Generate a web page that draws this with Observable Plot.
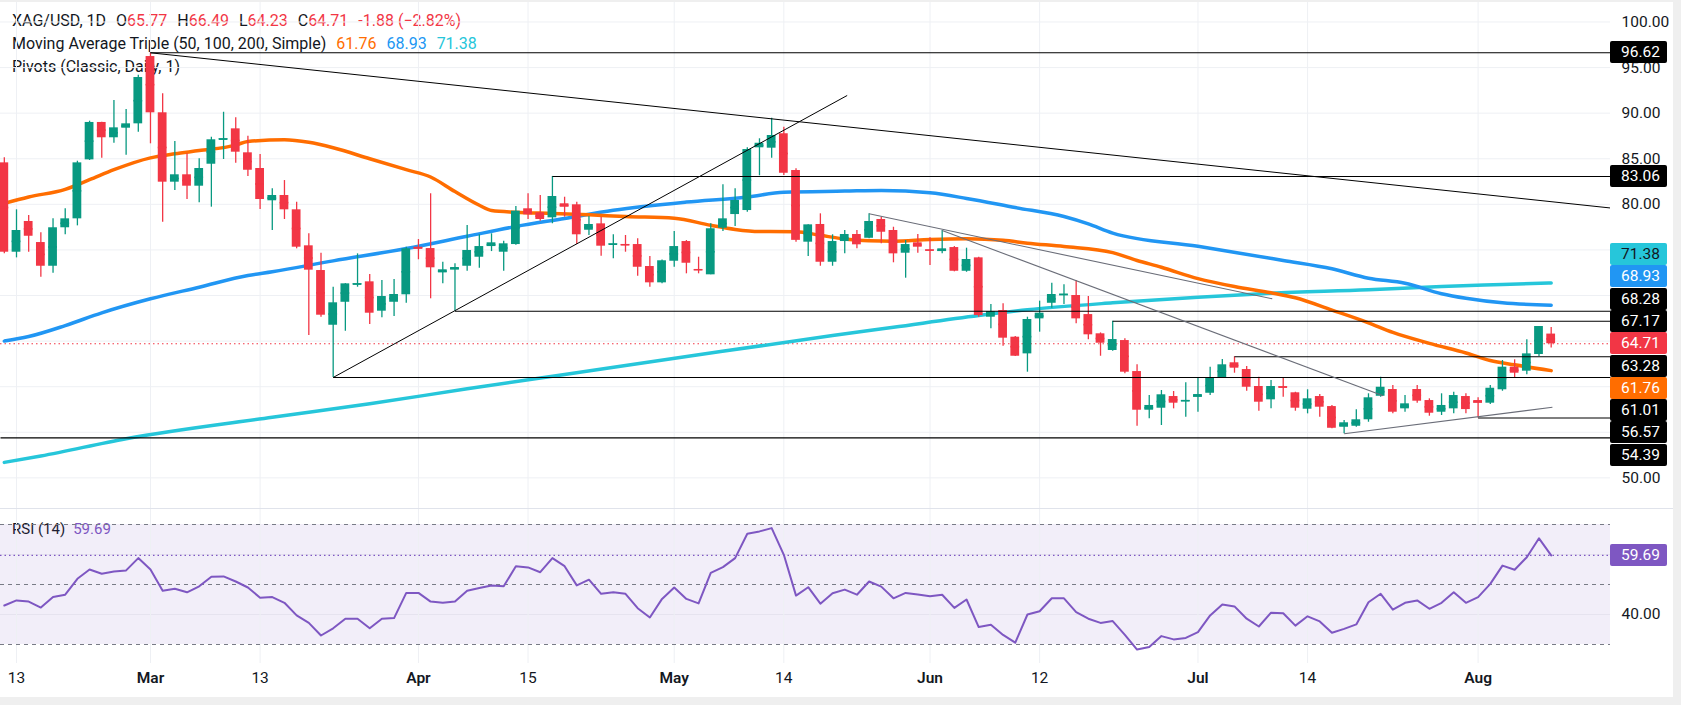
<!DOCTYPE html>
<html><head><meta charset="utf-8">
<script src="https://cdn.jsdelivr.net/npm/d3@7"></script>
<script src="https://cdn.jsdelivr.net/npm/@observablehq/plot@0.6"></script>
<style>
html,body{margin:0;padding:0;background:#fff;}
#wrap{position:relative;width:1681px;height:705px;overflow:hidden;background:#fff;font-family:Roboto,sans-serif;color:#131722;}
.lg{position:absolute;left:12px;font-size:16px;line-height:23px;white-space:pre;z-index:0;}
.lg span.gap{margin-left:10px;}
.box{position:absolute;left:1610px;width:57px;height:22px;line-height:22px;font-size:15.5px;padding-left:11px;box-sizing:border-box;border-radius:2px;z-index:3;}
svg{position:absolute;left:0;z-index:1;}
.frameR{position:absolute;left:1673px;top:0;width:8px;height:705px;background:#efefef;z-index:4;}
.frameB{position:absolute;left:0;top:697px;width:1681px;height:8px;background:#efefef;z-index:4;}
.frameT{position:absolute;left:0;top:0;width:1681px;height:2px;background:#efefef;z-index:4;}
.sep{position:absolute;left:0;top:508px;width:1681px;height:1px;background:#e0e3eb;z-index:2;}
</style></head><body><div id="wrap"></div><script>
// ---------- data ----------
const dates = [
"Feb 12","Feb 13","Feb 16","Feb 17","Feb 18","Feb 19","Feb 20","Feb 23","Feb 24","Feb 25","Feb 26","Feb 27",
"Mar 2","Mar 3","Mar 4","Mar 5","Mar 6","Mar 9","Mar 10","Mar 11","Mar 12","Mar 13","Mar 16","Mar 17","Mar 18","Mar 19","Mar 20","Mar 23","Mar 24","Mar 25","Mar 26","Mar 27","Mar 30","Mar 31",
"Apr 1","Apr 2","Apr 6","Apr 7","Apr 8","Apr 9","Apr 10","Apr 13","Apr 14","Apr 15","Apr 16","Apr 17","Apr 20","Apr 21","Apr 22","Apr 23","Apr 24","Apr 27","Apr 28","Apr 29","Apr 30",
"May 1","May 4","May 5","May 6","May 7","May 8","May 11","May 12","May 13","May 14","May 15","May 18","May 19","May 20","May 21","May 22","May 25","May 26","May 27","May 28","May 29",
"Jun 1","Jun 2","Jun 3","Jun 4","Jun 5","Jun 8","Jun 9","Jun 10","Jun 11","Jun 12","Jun 15","Jun 16","Jun 17","Jun 18","Jun 19","Jun 22","Jun 23","Jun 24","Jun 25","Jun 26","Jun 29","Jun 30",
"Jul 1","Jul 2","Jul 3","Jul 6","Jul 7","Jul 8","Jul 9","Jul 10","Jul 13","Jul 14","Jul 15","Jul 16","Jul 17","Jul 20","Jul 21","Jul 22","Jul 23","Jul 24","Jul 27","Jul 28","Jul 29","Jul 30","Jul 31",
"Aug 3","Aug 4","Aug 5","Aug 6","Aug 7","Aug 10","Aug 11"];
const open = [84.55,74.75,78.12,75.81,73.21,77.43,78.41,84.88,88.98,87.30,88.35,88.83,
96.21,90.04,82.43,83.24,81.99,84.40,87.10,88.28,85.65,83.93,80.39,80.97,79.40,75.45,72.74,66.74,69.26,71.20,71.50,68.28,69.26,70.08,
75.30,75.15,72.49,72.82,73.21,74.20,75.37,74.75,75.59,79.51,79.07,78.52,80.06,79.95,77.16,77.86,75.60,75.60,75.59,73.18,71.39,
73.76,75.92,72.85,72.27,77.38,78.88,79.32,86.20,86.16,87.74,83.71,75.85,77.79,73.65,75.92,76.69,76.28,78.34,77.13,74.64,75.78,
75.00,74.82,75.26,72.66,74.13,67.62,68.35,65.43,63.60,67.44,69.15,70.05,70.00,67.91,65.80,63.97,65.06,61.66,57.42,57.64,58.92,58.40,
58.84,59.28,60.97,62.62,61.88,60.02,58.56,60.00,59.33,57.53,58.92,57.82,55.55,55.66,56.37,58.95,59.69,57.57,59.69,58.48,57.20,57.57,58.92,
58.48,58.19,59.66,62.14,61.70,63.53,65.77];
const high = [85.10,79.40,78.77,76.88,78.41,79.51,84.73,89.12,89.00,91.39,90.40,94.16,
96.62,92.12,86.89,85.54,85.00,87.36,90.10,89.49,87.47,85.47,81.70,82.61,80.23,76.77,74.64,70.91,71.30,74.57,72.30,71.64,71.75,75.30,
76.14,81.16,73.65,73.48,77.68,76.66,76.77,75.96,79.76,81.16,80.97,83.06,80.78,80.23,78.66,78.59,76.66,76.58,76.22,74.29,73.90,
77.02,76.03,74.20,77.86,82.14,81.70,86.20,87.19,89.45,88.46,83.90,77.75,78.96,76.66,77.13,77.13,78.96,78.59,77.49,76.03,76.69,
76.33,77.13,75.37,75.19,74.20,69.01,69.09,65.50,67.62,69.38,71.35,71.17,71.64,69.89,65.90,67.17,65.25,62.40,59.03,59.58,59.47,60.42,
61.00,62.14,62.98,63.28,62.21,61.04,60.68,60.97,59.39,59.66,59.14,57.94,56.29,57.46,59.22,61.04,60.13,59.03,60.13,58.67,59.22,59.39,59.22,
58.78,60.13,62.87,62.95,65.14,66.60,66.49];
const low = [74.57,74.13,74.75,72.01,72.45,76.66,77.64,84.81,85.06,86.70,85.39,87.91,
86.64,78.04,81.52,80.53,80.17,79.69,84.92,84.51,83.05,79.43,77.13,78.34,75.12,65.61,67.62,61.01,66.08,70.91,66.82,67.55,67.69,69.15,
73.92,69.64,71.28,68.28,72.66,73.00,74.82,72.66,75.50,78.34,78.15,77.87,78.59,75.59,76.58,74.31,74.03,74.75,72.12,70.91,71.28,
73.10,72.38,72.38,72.27,77.02,77.57,79.14,83.13,85.06,83.16,75.85,74.29,73.21,73.21,74.57,75.12,76.22,75.67,73.59,71.90,74.64,
73.29,74.57,72.60,72.55,67.62,66.35,64.44,63.30,61.59,65.98,68.61,69.01,66.89,65.14,63.34,63.90,61.41,55.66,56.48,55.74,57.57,56.65,
57.20,59.03,60.90,61.48,59.50,57.31,57.57,58.84,57.31,57.02,56.65,55.40,54.83,55.55,56.10,58.84,57.02,57.20,58.19,56.76,56.84,57.02,57.02,
56.57,58.04,59.50,60.93,61.30,63.31,64.23];
const close = [74.75,77.13,76.50,73.21,77.43,78.41,84.55,88.98,87.30,88.39,88.83,93.91,
90.04,82.43,83.24,81.99,83.93,87.08,87.20,85.72,83.74,80.53,80.97,79.40,75.30,72.78,67.84,69.20,71.28,71.30,68.06,69.89,70.11,75.12,
75.12,73.04,72.82,73.07,74.94,75.37,75.78,75.67,79.25,78.85,78.34,80.86,79.69,76.66,77.79,75.41,75.66,75.52,73.10,71.39,73.81,
75.37,73.54,72.80,77.32,78.41,80.42,86.01,86.70,87.55,83.41,76.05,77.75,73.65,75.92,76.69,75.56,78.12,76.94,74.57,75.59,75.30,
74.95,75.12,72.66,73.95,67.80,68.24,65.32,63.34,67.37,68.06,70.11,70.15,67.44,65.69,64.77,65.17,61.59,57.42,57.94,59.11,58.19,58.50,
59.14,60.97,62.40,62.03,59.94,58.30,60.02,59.90,57.64,58.67,57.75,55.44,56.04,56.37,58.78,59.94,57.20,58.12,58.41,57.09,57.94,59.03,57.49,
58.19,59.83,62.14,61.48,63.60,66.60,64.71];
const rsi = [43.0,44.7,44.3,42.3,45.8,46.6,51.9,55.0,53.6,54.3,54.7,58.8,
55.0,47.9,48.6,47.4,49.4,52.6,52.7,51.0,49.0,45.6,45.8,43.9,39.7,37.2,33.0,35.4,38.6,38.6,35.4,38.6,38.8,47.2,
47.2,44.3,43.9,44.3,47.9,48.8,49.7,49.4,56.1,55.7,54.1,58.8,56.1,49.7,51.6,46.9,47.4,46.9,42.1,39.0,45.2,
49.0,45.2,43.7,53.9,55.8,58.8,66.9,67.7,68.8,59.9,46.3,49.1,43.6,47.1,48.3,46.6,51.0,49.3,45.4,47.2,46.7,
46.1,46.6,42.2,45.0,35.8,36.6,33.2,30.6,40.0,41.1,45.4,45.4,40.8,38.6,37.2,37.8,33.2,28.3,29.2,32.8,31.7,32.2,
34.1,39.7,43.3,42.7,38.6,36.0,40.6,40.4,36.3,39.4,37.7,33.9,35.2,36.7,44.1,46.9,41.6,43.9,44.7,41.9,43.9,47.4,43.9,
45.8,50.2,56.3,54.9,59.1,65.4,59.69];
// moving averages read at sample bars: [bar number, value]
const ma50 = [[0,80.1],[2,80.8],[5,81.65],[7,82.7],[9,83.8],[12,85.1],[14,85.55],[16,85.9],[19,86.5],[20,86.9],[23,87.08],[25,86.8],[27,86.2],[30,85.0],[33,83.8],[35,83.0],[37,81.4],[39,79.9],[40,79.32],[42,79.14],[45,79.0],[48,78.85],[51,78.66],[55,78.48],[58,77.7],[60,77.25],[62,77.02],[65,77.0],[67,76.6],[69,76.2],[71,76.0],[73,75.96],[76,76.14],[79,76.22],[82,76.05],[84,75.74],[87,75.37],[91,74.7],[93,73.84],[95,73.1],[98,71.85],[101,70.98],[104,70.3],[106,69.75],[109,68.4],[112,67.0],[114,65.95],[117,64.75],[120,63.7],[122,62.87],[124,62.4],[127,61.76]];
const ma100 = [[0,65.0],[2,65.5],[5,66.7],[8,68.1],[12,69.64],[16,70.91],[20,72.19],[22,72.6],[27,73.8],[33,75.15],[38,76.5],[42,77.57],[46,78.45],[50,79.35],[56,80.25],[61,80.8],[64,81.33],[69,81.45],[72,81.52],[76,81.26],[79,80.65],[83,79.65],[87,78.66],[89,77.85],[91,76.85],[98,75.4],[105,73.84],[109,72.93],[112,71.9],[115,71.35],[118,70.2],[120,69.7],[123,69.2],[127,68.93]];
const ma200 = [[0,51.7],[3,52.4],[10,54.3],[22,56.65],[30,58.12],[38,59.77],[46,61.34],[57,63.5],[68,65.61],[73,66.52],[80,67.8],[84,68.43],[91,69.2],[98,69.81],[104,70.25],[112,70.62],[118,70.99],[123,71.21],[127,71.38]];
// horizontal pivot levels and the bar each one starts from (null = left edge)
const pivotLevels = [96.62, 83.06, 68.28, 67.17, 63.28, 61.01, 56.57, 54.39];
const pivotFrom   = ["Mar 2","Apr 17","Apr 7","Jun 22","Jul 6","Mar 23","Aug 3", null];
// drawn trend lines: [bar1, price1, bar2, price2]
const blackTrends = [[12,96.62,131.87,79.6],[27,61.01,69.2,91.94]];
const grayTrends  = [[71,78.96,104.1,69.64],[77,77.13,113.2,59.0],[110,54.83,127.1,57.75]];
const tickDates  = ["Feb 13","Mar 2","Mar 13","Apr 1","Apr 15","May 1","May 14","Jun 1","Jun 12","Jul 1","Jul 14","Aug 3"];
const tickLabels = ["13","Mar","13","Apr","15","May","14","Jun","12","Jul","14","Aug"];
const priceTicks = [50,55,60,65,70,75,80,85,90,95,100];
const rsiLevels = [70,50,30];
const rsiTicks = [40,60];
const last = {O:65.77, H:66.49, L:64.23, C:64.71, chg:"-1.88", pct:"(\u22122.82%)"};

// ---------- styles ----------
const UP="#089981", DN="#f23645", C50="#ff6d00", C100="#2196f3", C200="#26c6da", PURPLE="#7e57c2", TXT="#131722";
const xDomain=[-0.3136,131.87];
const yDomain=[46.64,102.357];
const wrap=document.getElementById("wrap");

const bars = dates.map((d,k)=>({k,o:open[k],h:high[k],l:low[k],c:close[k],col: close[k]>=open[k]?UP:DN}));
const ticks = tickDates.map((d,j)=>({k:dates.indexOf(d), label:tickLabels[j], month:isNaN(+tickLabels[j])}));
const pivots = pivotLevels.map((p,j)=>({p, k: pivotFrom[j]===null? xDomain[0] : dates.indexOf(pivotFrom[j])}));
const toLine = arr => arr.map(([k,v])=>({k,v}));

// right-axis value labels list
const H=22.3;
const labels = [
  {v:pivotLevels[0],bg:"#000",fg:"#fff"},
  {v:pivotLevels[1],bg:"#000",fg:"#fff"},
  {v:ma200.at(-1)[1],bg:C200,fg:TXT},
  {v:ma100.at(-1)[1],bg:C100,fg:"#fff"},
  {v:pivotLevels[2],bg:"#000",fg:"#fff"},
  {v:pivotLevels[3],bg:"#000",fg:"#fff"},
  {v:last.C,bg:DN,fg:"#fff",anchor:true},
  {v:pivotLevels[4],bg:"#000",fg:"#fff"},
  {v:ma50.at(-1)[1],bg:C50,fg:"#fff"},
  {v:pivotLevels[5],bg:"#000",fg:"#fff"},
  {v:pivotLevels[6],bg:"#000",fg:"#fff"},
  {v:pivotLevels[7],bg:"#000",fg:"#fff"}
].sort((a,b)=>b.v-a.v);

// legend (under plot)
const lg=document.createElement("div"); lg.className="lg"; lg.style.top="9px";
const red = s=>`<span style="color:${DN}">${s}</span>`;
lg.innerHTML = `XAG/USD, 1D<span class="gap"></span>O${red(last.O.toFixed(2))}<span class="gap"></span>H${red(last.H.toFixed(2))}<span class="gap"></span>L${red(last.L.toFixed(2))}<span class="gap"></span>C${red(last.C.toFixed(2))}<span class="gap"></span>${red(last.chg+" "+last.pct)}\n`+
`Moving Average Triple (50, 100, 200, Simple)<span class="gap"></span><span style="color:${C50}">${ma50.at(-1)[1].toFixed(2)}</span><span class="gap"></span><span style="color:${C100}">${ma100.at(-1)[1].toFixed(2)}</span><span class="gap"></span><span style="color:${C200}">${ma200.at(-1)[1].toFixed(2)}</span>\n`+
`Pivots (Classic, Daily, 1)`;
wrap.appendChild(lg);

// compute label positions with the same linear y scale as the plot
const yScaleTmp = d3.scaleLinear().domain(yDomain).range([508,0]);
labels.forEach(l=>l.y=yScaleTmp(l.v));
const ai = labels.findIndex(l=>l.anchor);
for(let i=ai-1;i>=0;i--) labels[i].y=Math.min(labels[i].y, labels[i+1].y-H);
for(let i=ai+1;i<labels.length;i++) labels[i].y=Math.max(labels[i].y, labels[i-1].y+H);
// axis tick labels hidden behind value boxes are not drawn
const shownTicks = priceTicks.filter(t=>!labels.some(l=>Math.abs(yScaleTmp(t)-l.y)<12));

const pricePlot = Plot.plot({
  width:1681, height:508, marginLeft:0, marginRight:71, marginTop:0, marginBottom:0,
  x:{domain:xDomain, axis:null}, y:{domain:yDomain, axis:null},
  color:{type:"identity"},
  style:{background:"transparent", fontFamily:"Roboto, sans-serif"},
  marks:[
    Plot.ruleY(priceTicks,{stroke:"#eef0f4"}),
    Plot.ruleX(ticks,{x:"k",stroke:"#eef0f4"}),
    Plot.axisY(shownTicks,{anchor:"right",tickSize:0,tickPadding:11,tickFormat:d=>d.toFixed(2),fontSize:15.5,color:TXT,label:null}),
    Plot.ruleY([last.C],{stroke:DN,strokeDasharray:"1.5,3",strokeWidth:1.2}),
    Plot.line(toLine(ma200),{x:"k",y:"v",stroke:C200,strokeWidth:3.5,curve:"monotone-x"}),
    Plot.line(toLine(ma100),{x:"k",y:"v",stroke:C100,strokeWidth:3.5,curve:"monotone-x"}),
    Plot.line(toLine(ma50),{x:"k",y:"v",stroke:C50,strokeWidth:3.5,curve:"monotone-x"}),
    Plot.ruleX(bars,{x:"k",y1:"l",y2:"h",stroke:"col",strokeWidth:1.3}),
    Plot.rect(bars,{x1:d=>d.k-0.36,x2:d=>d.k+0.36,y1:d=>Math.min(d.o,d.c),y2:d=>Math.max(d.o,d.c),fill:"col"}),
    Plot.ruleY(bars,{y:d=>(d.o+d.c)/2,x1:d=>d.k-0.36,x2:d=>d.k+0.36,stroke:"col",strokeWidth:1.6}),
    Plot.link(pivots,{x1:"k",x2:()=>xDomain[1],y1:"p",y2:"p",stroke:"#000",strokeWidth:1.1}),
    Plot.link(blackTrends,{x1:d=>d[0],y1:d=>d[1],x2:d=>d[2],y2:d=>d[3],stroke:"#000",strokeWidth:1,clip:true}),
    Plot.link(grayTrends,{x1:d=>d[0],y1:d=>d[1],x2:d=>d[2],y2:d=>d[3],stroke:"#6a6d78",strokeWidth:1.1,clip:true})
  ]
});
pricePlot.style.top="0px";
wrap.appendChild(pricePlot);

// RSI legend
const rl=document.createElement("div"); rl.className="lg"; rl.style.top="518px"; rl.style.fontSize="15px";
rl.innerHTML=`RSI (14)<span style="margin-left:8px;color:${PURPLE}">${rsi.at(-1).toFixed(2)}</span>`;
wrap.appendChild(rl);

const rsiData = rsi.map((v,k)=>({k,v}));
const rsiPlot = Plot.plot({
  width:1681, height:196, marginLeft:0, marginRight:71, marginTop:0, marginBottom:42,
  x:{domain:xDomain, axis:null}, y:{domain:[23.667,75], axis:null},
  style:{background:"transparent", fontFamily:"Roboto, sans-serif"},
  marks:[
    Plot.rect([[30,70]],{x1:xDomain[0],x2:xDomain[1],y1:d=>d[0],y2:d=>d[1],fill:PURPLE,fillOpacity:0.1}),
    Plot.ruleY(rsiTicks,{stroke:"#e6e3ef"}),
    Plot.ruleX(ticks,{x:"k",stroke:"#eef0f4"}),
    Plot.ruleY(rsiLevels,{stroke:"#787b86",strokeDasharray:"4,4",strokeWidth:1}),
    Plot.ruleY([rsi.at(-1)],{stroke:PURPLE,strokeDasharray:"1.5,3",strokeWidth:1.3}),
    Plot.line(rsiData,{x:"k",y:"v",stroke:PURPLE,strokeWidth:2}),
    Plot.axisY([40],{anchor:"right",tickSize:0,tickPadding:11,tickFormat:d=>d.toFixed(2),fontSize:15.5,color:TXT,label:null}),
    Plot.text(ticks.filter(t=>!t.month),{x:"k",text:"label",frameAnchor:"bottom",dy:19,fontSize:15.5,fill:TXT}),
    Plot.text(ticks.filter(t=>t.month),{x:"k",text:"label",frameAnchor:"bottom",dy:19,fontSize:15.5,fontWeight:600,fill:TXT})
  ]
});
rsiPlot.style.top="509px";
wrap.appendChild(rsiPlot);

// value boxes on the price axis, y from the plot's own scale
const ys = pricePlot.scale("y");
for(const l of labels){
  const b=document.createElement("div"); b.className="box";
  b.style.top=(l.y-11)+"px"; b.style.background=l.bg; b.style.color=l.fg;
  b.textContent=l.v.toFixed(2); wrap.appendChild(b);
}
// rsi label
const yr = rsiPlot.scale("y");
const rb=document.createElement("div"); rb.className="box";
rb.style.top=(509+yr.apply(rsi.at(-1))-11)+"px"; rb.style.background=PURPLE; rb.style.color="#fff";
rb.textContent=rsi.at(-1).toFixed(2); wrap.appendChild(rb);

for(const c of ["frameT","frameR","frameB","sep"]){const d=document.createElement("div");d.className=c;wrap.appendChild(d);}
</script></body></html>
